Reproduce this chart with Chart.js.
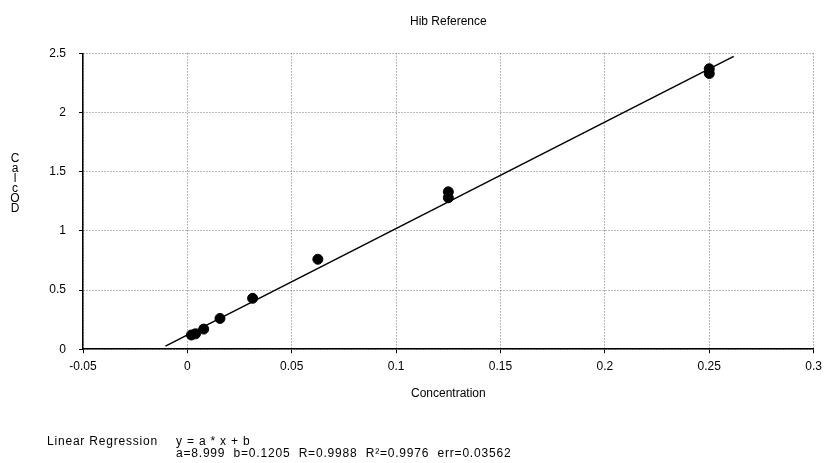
<!DOCTYPE html>
<html>
<head>
<meta charset="utf-8">
<script src="https://cdn.jsdelivr.net/npm/chart.js@4/dist/chart.umd.min.js"></script>
<style>
  body { margin: 0; background: #fff; }
  #wrap { position: relative; width: 828px; height: 463px; }
  .note { position: absolute; font-family: "Liberation Sans", Arial, sans-serif; font-size: 12px; letter-spacing: 0.8px; color: #000; white-space: pre; line-height: 13px; }
</style>
</head>
<body>
<div id="wrap">
  <canvas id="hibChart" width="828" height="463"></canvas>
  <div class="note" id="regLabel" style="left:47px; top:435px;">Linear Regression</div>
  <div class="note" id="regEq" style="left:176px; top:435px;"></div>
  <div class="note" id="regStats" style="left:176px; top:447px;"></div>
</div>
<script>
// measured points (concentration vs calc OD)
const concentration = [0.25, 0.25, 0.125, 0.125, 0.0625, 0.03125, 0.015625, 0.0078125, 0.00390625, 0.001953125];
const calcOD = [2.37, 2.33, 1.33, 1.28, 0.76, 0.43, 0.26, 0.17, 0.13, 0.12];

// regression result
const fitA = 8.999;
const fitB = 0.1205;
const fitR = 0.9988;
const fitR2 = 0.9976;
const fitErr = 0.03562;
const fitRange = [-0.0105, 0.2617];

const xTicks = [-0.05, 0, 0.05, 0.1, 0.15, 0.2, 0.25, 0.3];
const yTicks = [0, 0.5, 1, 1.5, 2, 2.5];
const yTitleLetters = ["C", "a", "l", "c", "O", "D"];

const pointData = concentration.map((x, i) => ({ x: x, y: calcOD[i] }));
const lineData = fitRange.map(x => ({ x: x, y: fitA * x + fitB }));

document.getElementById("regEq").textContent = "y = a * x + b";
document.getElementById("regStats").textContent =
  "a=" + fitA + "  b=" + fitB + "  R=" + fitR + "  R\u00b2=" + fitR2 + "  err=" + fitErr;

const FONT = "Liberation Sans";

//============================== Y TITLE (stacked letters) ===========================
const stackedTitle = {
  id: "stackedTitle",
  afterDraw(chart) {
    const ctx = chart.ctx;
    ctx.save();
    ctx.fillStyle = "#000";
    ctx.font = "12px " + FONT;
    ctx.textAlign = "center";
    ctx.textBaseline = "middle";
    yTitleLetters.forEach((ch, i) => {
      ctx.fillText(ch, 15, 159 + i * 10);
    });
    ctx.restore();
  }
};

const fmt = v => String(+Number(v).toFixed(4));

const gridStyle = {
  color: "#777",
  lineWidth: 1,
  tickLength: 4,
  tickColor: "#000",
  tickBorderDash: []
};

new Chart(document.getElementById("hibChart").getContext("2d"), {
  type: "scatter",
  data: {
    datasets: [
      {
        label: "Hib Reference",
        data: pointData,
        backgroundColor: "#000",
        borderColor: "#000",
        pointRadius: 5,
        pointHoverRadius: 5
      },
      {
        label: "Fit",
        data: lineData,
        showLine: true,
        borderColor: "#000",
        borderWidth: 1.5,
        pointRadius: 0,
        fill: false
      }
    ]
  },
  options: {
    responsive: false,
    animation: false,
    layout: { padding: { left: 0, right: 13, top: 0, bottom: 58 } },
    plugins: {
      legend: { display: false },
      tooltip: { enabled: false },
      title: {
        display: true,
        text: "Hib Reference",
        fullSize: false,
        color: "#000",
        font: { family: FONT, size: 12, weight: "normal" },
        padding: { top: 14, bottom: 25 }
      }
    },
    scales: {
      x: {
        type: "linear",
        min: xTicks[0],
        max: xTicks[xTicks.length - 1],
        afterBuildTicks: s => { s.ticks = xTicks.map(v => ({ value: v })); },
        grid: gridStyle,
        border: { color: "#000", width: 1.5, dash: [1, 2] },
        ticks: { color: "#000", padding: 6, font: { family: FONT, size: 12 }, maxRotation: 0, callback: fmt },
        title: {
          display: true,
          text: "Concentration",
          color: "#000",
          font: { family: FONT, size: 12 },
          padding: { top: 7, bottom: 4 }
        }
      },
      y: {
        type: "linear",
        min: yTicks[0],
        max: yTicks[yTicks.length - 1],
        afterBuildTicks: s => { s.ticks = yTicks.map(v => ({ value: v })); },
        afterFit: s => { s.width = 83; },
        grid: gridStyle,
        border: { color: "#000", width: 1.5, dash: [1, 2] },
        ticks: { color: "#000", padding: 13, font: { family: FONT, size: 12 }, callback: fmt }
      }
    }
  },
  plugins: [stackedTitle]
});
</script>
</body>
</html>
